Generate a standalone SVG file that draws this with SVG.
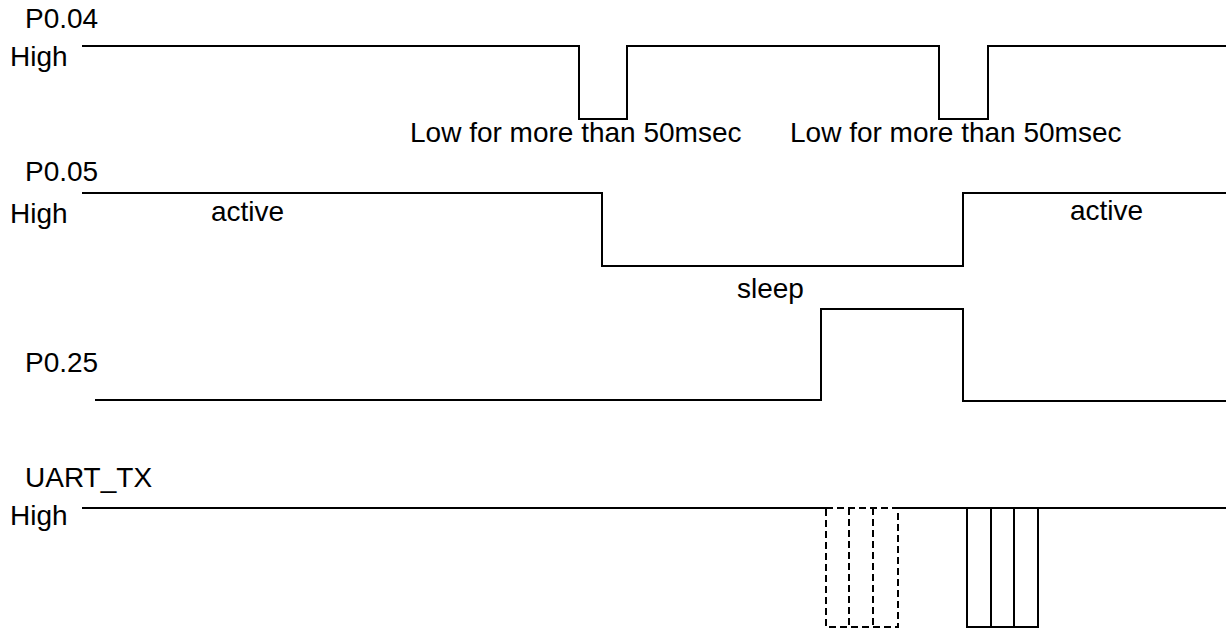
<svg xmlns="http://www.w3.org/2000/svg" width="1226" height="629" viewBox="0 0 1226 629">
<style>
text{font-family:"Liberation Sans",Arial,sans-serif;font-size:28px;fill:#000}
.sig{fill:none;stroke:#000;stroke-width:2}
.dash{fill:none;stroke:#000;stroke-width:2;stroke-dasharray:7 4}
</style>
<rect width="1226" height="629" fill="#fff"/>
<g id="labels">
<text x="25" y="28">P0.04</text>
<text x="10" y="66">High</text>
<text x="410" y="142">Low for more than 50msec</text>
<text x="790" y="142">Low for more than 50msec</text>
<text x="25" y="181">P0.05</text>
<text x="10" y="223">High</text>
<text x="211" y="221">active</text>
<text x="1070" y="220">active</text>
<text x="737" y="298">sleep</text>
<text x="25" y="372">P0.25</text>
<text x="25" y="487">UART_TX</text>
<text x="10" y="525">High</text>
</g>
<g id="connectors">
<path id="p004" class="sig" d="M82,46 H579 V119 H627 V46 H939 V119 H988 V46 H1226"/>
<path id="p005" class="sig" d="M82,193 H602 V266 H963 V193 H1226"/>
<path id="p025" class="sig" d="M95,400 H821 V309 H963 V401 H1226"/>
<path id="uart" class="sig" d="M82,508 H826 M898,508 H1226"/>
</g>
<g id="uart-dashed">
<rect class="dash" x="826" y="508" width="72" height="119"/>
<line class="dash" x1="849" y1="508" x2="849" y2="627"/>
<line class="dash" x1="873" y1="508" x2="873" y2="627"/>
</g>
<g id="uart-solid">
<rect class="sig" x="967" y="508" width="71" height="119"/>
<line class="sig" x1="991" y1="508" x2="991" y2="627"/>
<line class="sig" x1="1014" y1="508" x2="1014" y2="627"/>
</g>
</svg>
